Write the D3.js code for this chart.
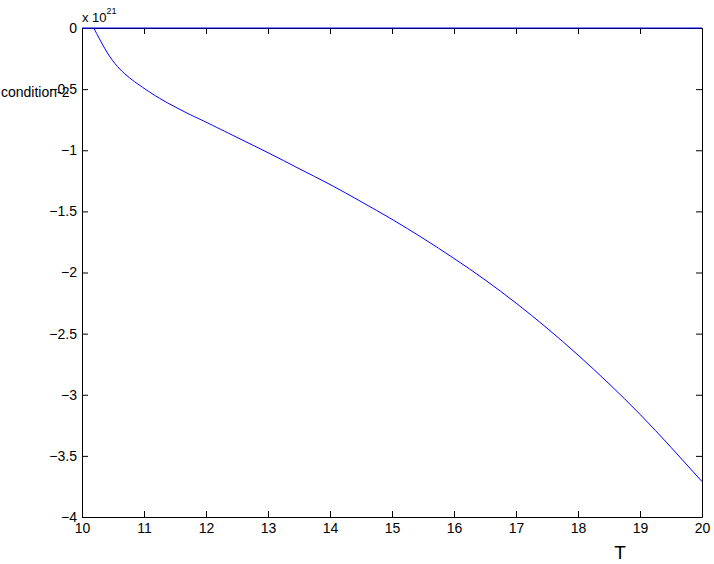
<!DOCTYPE html>
<html>
<head>
<meta charset="utf-8">
<script src="https://cdn.jsdelivr.net/npm/d3@7"></script>
<style>
  body { margin: 0; background: #fff; }
  svg text { font-family: "Liberation Sans", Arial, sans-serif; }
</style>
</head>
<body>
<div id="chart"></div>
<script>
// curve values (units of 1e21)
var tVals = [10.19, 10.37, 10.53, 10.69, 10.85, 11.02, 11.25, 11.5, 11.75, 12, 12.5, 13, 13.5, 14, 14.5, 15, 15.5, 16, 16.5, 17, 17.5, 18, 18.5, 19, 19.5, 20];
var condVals = [0, -0.17, -0.29, -0.375, -0.44, -0.5, -0.575, -0.645, -0.71, -0.77, -0.895, -1.02, -1.15, -1.28, -1.42, -1.565, -1.72, -1.885, -2.06, -2.25, -2.455, -2.675, -2.91, -3.16, -3.43, -3.71];
var zeroT = [10, 20];
var zeroVals = [0, 0];
var xTicks = [10, 11, 12, 13, 14, 15, 16, 17, 18, 19, 20];
var yTicks = [0, -0.5, -1, -1.5, -2, -2.5, -3, -3.5, -4];

var width = 714, height = 564;
var margin = {top: 28, right: 12, bottom: 47, left: 82};
var w = width - margin.left - margin.right;
var h = height - margin.top - margin.bottom;

var svg = d3.select("#chart").append("svg")
    .attr("width", width)
    .attr("height", height);

var g = svg.append("g")
    .attr("transform", "translate(" + margin.left + "," + margin.top + ")");

var x = d3.scaleLinear().domain([10, 20]).range([0, w]);
var y = d3.scaleLinear().domain([-4, 0]).range([h, 0]);

var fmt = d3.format("");

// axes with inward ticks, box on
var xBottom = g.append("g")
    .attr("transform", "translate(0," + h + ")")
    .call(d3.axisBottom(x).tickValues(xTicks).tickSizeInner(-6).tickSizeOuter(0).tickPadding(6).tickFormat(fmt));
var xTop = g.append("g")
    .call(d3.axisTop(x).tickValues(xTicks).tickSizeInner(-6).tickSizeOuter(0).tickFormat(""));
var yLeft = g.append("g")
    .call(d3.axisLeft(y).tickValues(yTicks).tickSizeInner(-6).tickSizeOuter(0).tickPadding(5).tickFormat(fmt));
var yRight = g.append("g")
    .attr("transform", "translate(" + w + ",0)")
    .call(d3.axisRight(y).tickValues(yTicks).tickSizeInner(-6).tickSizeOuter(0).tickFormat(""));

[xBottom, xTop, yLeft, yRight].forEach(function(a) {
  a.selectAll("path.domain").attr("stroke", "#000").attr("stroke-width", 1);
  a.selectAll(".tick line").attr("stroke", "#000");
  a.selectAll("text").attr("font-size", 14).attr("fill", "#000");
});

var line = d3.line()
    .x(function(d) { return x(d[0]); })
    .y(function(d) { return y(d[1]); })
    .curve(d3.curveNatural);

// zero line
g.append("path")
    .datum(zeroT.map(function(t, i) { return [t, zeroVals[i]]; }))
    .attr("d", line)
    .attr("fill", "none")
    .attr("stroke", "#0000ff")
    .attr("stroke-width", 1);

g.append("path")
    .datum(tVals.map(function(t, i) { return [t, condVals[i]]; }))
    .attr("d", line)
    .attr("fill", "none")
    .attr("stroke", "#0000ff")
    .attr("stroke-width", 1);

// exponent label
var expo = svg.append("text")
    .attr("x", 82)
    .attr("y", 22)
    .attr("font-size", 13)
    .attr("fill", "#000");
expo.append("tspan").text("x 10");
expo.append("tspan").attr("dy", -8).attr("font-size", 9).text("21");

// axis labels
svg.append("text")
    .attr("x", 1)
    .attr("y", 97)
    .attr("font-size", 14)
    .attr("fill", "#000")
    .text("condition-2");

svg.append("text")
    .attr("x", 620)
    .attr("y", 559)
    .attr("text-anchor", "middle")
    .attr("font-size", 19)
    .attr("fill", "#000")
    .text("T");
</script>
</body>
</html>
